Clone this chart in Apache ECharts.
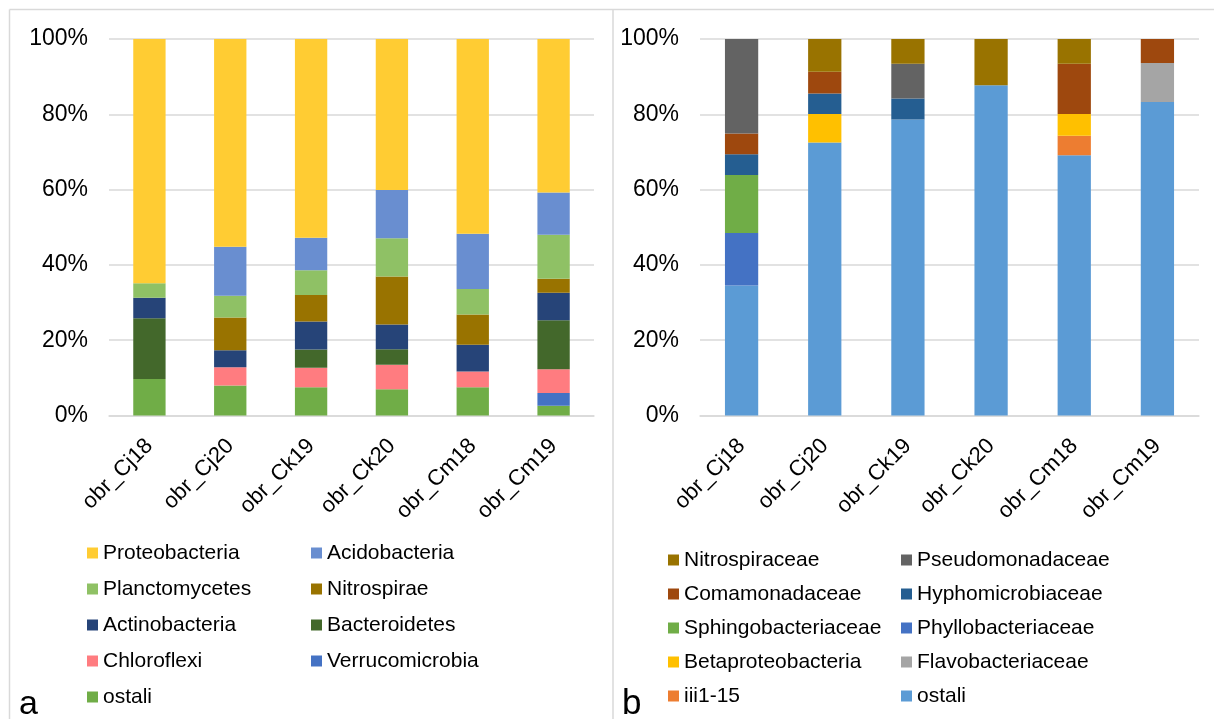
<!DOCTYPE html>
<html>
<head>
<meta charset="utf-8">
<script src="https://cdn.jsdelivr.net/npm/echarts@6/dist/echarts.min.js"></script>
<style>
html,body{margin:0;padding:0;background:#fff;}
#c{width:1214px;height:719px;}
</style>
</head>
<body>
<div id="c"></div>
<script>
// ---- shared categories ----
const categories = ['obr_Cj18','obr_Cj20','obr_Ck19','obr_Ck20','obr_Cm18','obr_Cm19'];
const yTicks = [0,20,40,60,80,100];

// ---- panel a (phyla), stacked bottom -> top ----
const a_ostali          = [9.7, 8.0, 7.5, 7.0, 7.5, 2.6];
const a_Verrucomicrobia = [0,   0,   0,   0,   0,   3.4];
const a_Chloroflexi     = [0,   4.8, 5.2, 6.5, 4.2, 6.3];
const a_Bacteroidetes   = [16.1,0,   4.8, 4.1, 0,   13.0];
const a_Actinobacteria  = [5.5, 4.5, 7.5, 6.6, 7.1, 7.3];
const a_Nitrospirae     = [0,   8.7, 7.0, 12.7,8.0, 3.7];
const a_Planctomycetes  = [3.8, 5.8, 6.6, 10.2,6.8, 11.7];
const a_Acidobacteria   = [0,   13.0,8.6, 12.8,14.7,11.2];
const a_Proteobacteria  = [64.9,55.2,52.8,40.1,51.7,40.8];

// ---- panel b (families), stacked bottom -> top ----
const b_ostali             = [34.5,72.5,78.6,87.7,69.1,83.3];
const b_iii1_15            = [0,   0,   0,   0,   5.2, 0];
const b_Flavobacteriaceae  = [0,   0,   0,   0,   0,   10.3];
const b_Betaproteobacteria = [0,   7.6, 0,   0,   5.8, 0];
const b_Phyllobacteriaceae = [14.0,0,   0,   0,   0,   0];
const b_Sphingobacteriaceae= [15.4,0,   0,   0,   0,   0];
const b_Hyphomicrobiaceae  = [5.5, 5.4, 5.6, 0,   0,   0];
const b_Comamonadaceae     = [5.5, 5.8, 0,   0,   13.3,6.4];
const b_Pseudomonadaceae   = [25.1,0,   9.2, 0,   0,   0];
const b_Nitrospiraceae     = [0,   8.7, 6.6, 12.3,6.6, 0];

const FONT = 'Liberation Sans, Arial, sans-serif';

const seriesA = [
  ['ostali', a_ostali, '#70AD47'],
  ['Verrucomicrobia', a_Verrucomicrobia, '#4472C4'],
  ['Chloroflexi', a_Chloroflexi, '#FF7C80'],
  ['Bacteroidetes', a_Bacteroidetes, '#43682B'],
  ['Actinobacteria', a_Actinobacteria, '#264478'],
  ['Nitrospirae', a_Nitrospirae, '#997300'],
  ['Planctomycetes', a_Planctomycetes, '#8FC165'],
  ['Acidobacteria', a_Acidobacteria, '#698ED0'],
  ['Proteobacteria', a_Proteobacteria, '#FFCC33']
];
const seriesB = [
  ['ostali', b_ostali, '#5B9BD5'],
  ['iii1-15', b_iii1_15, '#ED7D31'],
  ['Flavobacteriaceae', b_Flavobacteriaceae, '#A5A5A5'],
  ['Betaproteobacteria', b_Betaproteobacteria, '#FFC000'],
  ['Phyllobacteriaceae', b_Phyllobacteriaceae, '#4472C4'],
  ['Sphingobacteriaceae', b_Sphingobacteriaceae, '#70AD47'],
  ['Hyphomicrobiaceae', b_Hyphomicrobiaceae, '#255E91'],
  ['Comamonadaceae', b_Comamonadaceae, '#9E480E'],
  ['Pseudomonadaceae', b_Pseudomonadaceae, '#636363'],
  ['Nitrospiraceae', b_Nitrospiraceae, '#997300']
];
const colorA = {}; seriesA.forEach(s => colorA[s[0]] = s[2]);
const colorB = {}; seriesB.forEach(s => colorB[s[0]] = s[2]);

function mkSeries(list, idx, stack) {
  return list.map(s => ({
    name: s[0], type: 'bar', stack: stack,
    xAxisIndex: idx, yAxisIndex: idx,
    barWidth: '40%',
    itemStyle: { color: s[2] },
    data: s[1]
  }));
}

function mkX(idx) {
  return {
    type: 'category', gridIndex: idx, data: categories,
    axisLine: { lineStyle: { color: '#D9D9D9', width: 1.5 } },
    axisTick: { show: false },
    axisLabel: { rotate: 45, fontSize: 22, color: '#000', fontFamily: FONT, margin: 27, interval: 0 }
  };
}
function mkY(idx) {
  return {
    type: 'value', gridIndex: idx, min: yTicks[0], max: yTicks[yTicks.length-1], interval: 20,
    axisLine: { show: false }, axisTick: { show: false },
    splitLine: { lineStyle: { color: '#D9D9D9', width: 1.5 } },
    axisLabel: { formatter: '{value}%', fontSize: 23, color: '#000', fontFamily: FONT, margin: 21 }
  };
}
function mkLegend(names, colors, left, top, gap) {
  return {
    orient: 'vertical', left: left, top: top, itemGap: gap, padding: 0,
    itemWidth: 11, itemHeight: 11, icon: 'rect', selectedMode: false,
    textStyle: { fontSize: 21, color: '#000', fontFamily: FONT, lineHeight: 22 },
    data: names.map(n => ({ name: n, itemStyle: { color: colors[n] } }))
  };
}

const chart = echarts.init(document.getElementById('c'), null, { renderer: 'canvas' });
chart.setOption({
  animation: false,
  backgroundColor: '#fff',
  grid: [
    { left: 109, right: 620, top: 39, bottom: 303.5 },
    { left: 700, right: 15, top: 39, bottom: 303.5 }
  ],
  xAxis: [mkX(0), mkX(1)],
  yAxis: [mkY(0), mkY(1)],
  legend: [
    mkLegend(['Proteobacteria','Planctomycetes','Actinobacteria','Chloroflexi','ostali'], colorA, 87, 542, 14),
    mkLegend(['Acidobacteria','Nitrospirae','Bacteroidetes','Verrucomicrobia'], colorA, 311, 542, 14),
    mkLegend(['Nitrospiraceae','Comamonadaceae','Sphingobacteriaceae','Betaproteobacteria','iii1-15'], colorB, 668, 549, 12),
    mkLegend(['Pseudomonadaceae','Hyphomicrobiaceae','Phyllobacteriaceae','Flavobacteriaceae','ostali'], colorB, 901, 549, 12)
  ],
  graphic: [
    { type: 'line', shape: { x1: 9.5, y1: 9.5, x2: 1214, y2: 9.5 }, style: { stroke: '#D9D9D9', lineWidth: 1.5 } },
    { type: 'line', shape: { x1: 9.5, y1: 9.5, x2: 9.5, y2: 719 }, style: { stroke: '#D9D9D9', lineWidth: 1.5 } },
    { type: 'line', shape: { x1: 613, y1: 9.5, x2: 613, y2: 719 }, style: { stroke: '#D9D9D9', lineWidth: 1.5 } },
    { type: 'text', left: 19, top: 688, style: { text: 'a', fontSize: 34, fill: '#000', fontFamily: FONT } },
    { type: 'text', left: 622, top: 687, style: { text: 'b', fontSize: 35, fill: '#000', fontFamily: FONT } }
  ],
  series: mkSeries(seriesA, 0, 'a').concat(mkSeries(seriesB, 1, 'b'))
});
</script>
</body>
</html>
